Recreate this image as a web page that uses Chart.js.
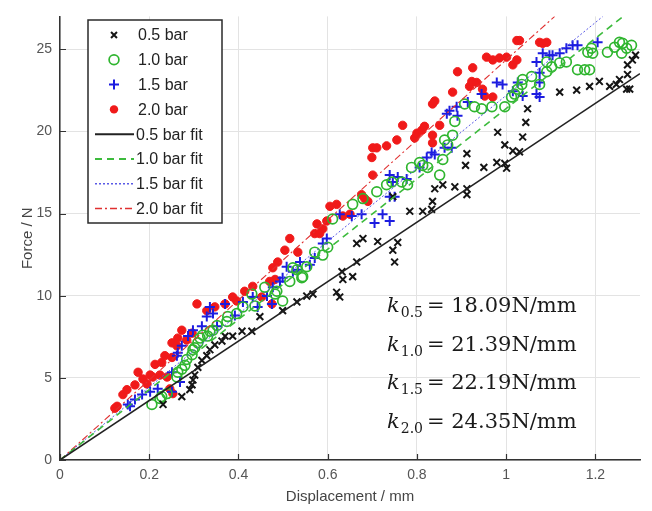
<!DOCTYPE html>
<html>
<head>
<meta charset="utf-8">
<script src="https://cdn.jsdelivr.net/npm/chart.js@4"></script>
<style>
  html, body { margin: 0; padding: 0; background: #fff; }
</style>
</head>
<body>
<canvas id="myChart" width="652" height="511"></canvas>
<script>
// axis ticks
const xTicks = [0, 0.2, 0.4, 0.6, 0.8, 1, 1.2];
const yTicks = [0, 5, 10, 15, 20, 25];

const seriesLabels = ['0.5 bar', '1.0 bar', '1.5 bar', '2.0 bar'];
const fitSlopes = [18.09, 21.39, 22.19, 24.35]; // N/mm, from the figure
const slopeNames = ['0.5', '1.0', '1.5', '2.0'];

const bar05 = [
    [0.231, 3.38], [0.273, 3.86], [0.291, 4.28], [0.296, 4.57], [0.298, 4.87], [0.302, 5.17],
    [0.309, 5.64], [0.318, 6.06], [0.329, 6.35], [0.336, 6.71], [0.347, 7.01], [0.363, 7.24],
    [0.370, 7.54], [0.387, 7.54], [0.408, 7.84], [0.430, 7.84], [0.448, 8.73], [0.499, 9.09],
    [0.531, 9.62], [0.553, 9.98], [0.567, 10.10], [0.627, 9.92], [0.620, 10.21], [0.634, 10.99],
    [0.656, 11.16], [0.632, 11.46], [0.665, 12.05], [0.665, 13.18], [0.679, 13.48], [0.712, 13.30],
    [0.746, 12.77], [0.750, 12.05], [0.757, 13.24], [0.746, 16.03], [0.784, 15.14], [0.813, 15.14],
    [0.833, 15.26], [0.835, 15.74], [0.840, 16.51], [0.858, 16.75], [0.885, 16.63], [0.912, 16.51],
    [0.912, 16.15], [0.909, 17.93], [0.912, 18.65], [0.950, 17.81], [0.979, 18.11], [0.997, 18.05],
    [1.001, 17.76], [0.997, 19.18], [0.981, 19.95], [1.015, 18.82], [1.030, 18.76], [1.037, 19.66],
    [1.044, 20.55], [1.048, 21.38], [1.120, 22.39], [1.158, 22.51], [1.187, 22.74], [1.209, 23.04],
    [1.232, 22.74], [1.247, 22.86], [1.254, 23.16], [1.270, 22.57], [1.277, 22.57], [1.272, 23.46],
    [1.272, 24.05], [1.283, 24.35], [1.290, 24.64]
];

const bar10 = [
    [0.206, 3.38], [0.224, 3.74], [0.240, 4.04], [0.262, 5.05], [0.264, 5.34], [0.273, 5.52],
    [0.280, 5.76], [0.284, 6.12], [0.296, 6.41], [0.302, 6.83], [0.309, 7.13], [0.314, 7.42],
    [0.320, 7.60], [0.336, 7.84], [0.228, 3.86], [0.298, 6.71], [0.331, 7.54], [0.352, 8.19],
    [0.374, 8.43], [0.396, 8.91], [0.410, 9.32], [0.437, 9.38], [0.459, 10.51], [0.486, 10.27],
    [0.499, 9.68], [0.515, 10.87], [0.542, 11.10], [0.531, 11.58], [0.553, 11.76], [0.343, 7.90],
    [0.376, 8.73], [0.430, 10.10], [0.482, 10.10], [0.522, 11.70], [0.544, 11.16], [0.571, 12.65],
    [0.589, 12.47], [0.600, 12.95], [0.611, 14.67], [0.656, 15.56], [0.679, 15.91], [0.710, 16.33],
    [0.732, 16.75], [0.744, 16.92], [0.766, 16.92], [0.779, 16.75], [0.788, 17.81], [0.806, 18.11],
    [0.813, 17.93], [0.824, 17.81], [0.851, 17.34], [0.858, 18.29], [0.862, 19.48], [0.869, 19.18],
    [0.880, 19.77], [0.885, 20.61], [0.907, 21.67], [0.929, 21.50], [0.945, 21.38], [0.968, 21.50],
    [0.997, 21.50], [1.012, 22.09], [1.019, 22.27], [1.026, 22.57], [1.035, 22.86], [1.037, 23.16],
    [1.057, 23.34], [1.075, 22.86], [1.091, 23.63], [1.102, 23.93], [1.120, 24.17], [1.135, 24.23],
    [1.091, 24.23], [1.160, 23.75], [1.176, 23.75], [1.187, 23.75], [1.183, 24.82], [1.191, 25.06],
    [1.194, 24.76], [1.227, 24.82], [1.243, 25.12], [1.261, 25.36], [1.270, 25.06], [1.259, 24.76],
    [1.254, 25.42], [1.281, 25.24]
];

const bar15 = [
    [0.152, 3.38], [0.168, 3.68], [0.184, 3.98], [0.202, 4.16], [0.219, 4.33], [0.251, 4.16],
    [0.269, 4.75], [0.262, 6.35], [0.273, 6.95], [0.287, 7.54], [0.298, 7.90], [0.318, 8.14],
    [0.352, 8.14], [0.157, 3.27], [0.251, 5.34], [0.264, 6.53], [0.329, 8.73], [0.336, 9.32],
    [0.370, 9.50], [0.410, 9.62], [0.443, 9.32], [0.477, 10.51], [0.493, 10.87], [0.499, 11.10],
    [0.508, 11.76], [0.538, 12.05], [0.343, 8.91], [0.392, 8.79], [0.432, 9.92], [0.464, 9.98],
    [0.475, 9.50], [0.522, 11.46], [0.533, 11.58], [0.560, 11.88], [0.571, 12.29], [0.589, 13.18],
    [0.598, 13.48], [0.627, 14.96], [0.654, 14.85], [0.676, 14.96], [0.705, 14.43], [0.723, 14.96],
    [0.739, 14.55], [0.739, 17.34], [0.746, 16.92], [0.757, 17.22], [0.777, 17.10], [0.750, 16.03],
    [0.739, 16.03], [0.806, 17.81], [0.822, 18.41], [0.833, 18.71], [0.840, 18.59], [0.867, 21.08],
    [0.873, 21.26], [0.889, 21.50], [0.891, 20.96], [0.862, 19.00], [0.878, 19.00], [0.914, 21.79],
    [0.945, 22.27], [0.979, 22.98], [0.992, 22.86], [1.015, 22.45], [1.037, 22.15], [1.068, 22.27],
    [1.075, 22.09], [1.075, 22.98], [1.075, 23.57], [1.068, 24.23], [1.082, 24.76], [1.097, 24.64],
    [1.120, 24.76], [1.135, 25.06], [1.149, 25.24], [1.160, 25.24], [1.026, 22.98], [1.104, 24.64],
    [1.205, 25.42]
];

const bar20 = [
    [0.123, 3.15], [0.141, 3.98], [0.150, 4.28], [0.168, 4.57], [0.175, 5.34], [0.195, 4.63],
    [0.208, 5.05], [0.213, 5.82], [0.224, 5.17], [0.228, 5.94], [0.235, 6.35], [0.240, 5.05],
    [0.246, 4.33], [0.251, 6.24], [0.251, 7.13], [0.262, 6.95], [0.264, 7.42], [0.273, 7.90],
    [0.284, 7.30], [0.296, 7.72], [0.253, 4.04], [0.128, 3.27], [0.186, 4.93], [0.202, 5.17],
    [0.307, 9.50], [0.329, 9.09], [0.347, 9.32], [0.370, 9.50], [0.387, 9.92], [0.396, 9.68],
    [0.414, 10.27], [0.432, 10.57], [0.475, 9.50], [0.452, 9.92], [0.477, 11.70], [0.482, 10.99],
    [0.488, 12.05], [0.470, 10.87], [0.504, 12.77], [0.515, 13.48], [0.533, 12.65], [0.571, 13.78],
    [0.576, 14.37], [0.589, 14.07], [0.598, 14.55], [0.582, 13.78], [0.605, 15.44], [0.620, 15.56],
    [0.634, 14.85], [0.650, 14.96], [0.676, 16.15], [0.683, 15.91], [0.690, 15.74], [0.701, 17.34],
    [0.699, 18.41], [0.701, 19.00], [0.710, 19.00], [0.732, 19.12], [0.755, 19.48], [0.768, 20.37],
    [0.795, 19.60], [0.800, 19.89], [0.811, 20.07], [0.817, 20.31], [0.835, 19.77], [0.835, 19.30],
    [0.851, 20.37], [0.835, 21.67], [0.840, 21.85], [0.880, 22.39], [0.891, 23.63], [0.918, 22.74],
    [0.923, 23.04], [0.934, 22.98], [0.947, 22.57], [0.925, 23.87], [0.952, 22.15], [0.970, 22.09],
    [0.956, 24.52], [0.970, 24.35], [0.985, 24.47], [1.001, 24.52], [1.015, 24.05], [1.024, 24.35],
    [1.024, 25.53], [1.030, 25.53], [1.075, 25.42], [1.082, 25.36], [1.091, 25.42]
];

const X_MAX = 1.3;
const Y_MAX = 27;

const toPts = arr => arr.map(p => ({ x: p[0], y: p[1] }));

// fit line through the origin, up to where it leaves the axes
function fitLine(k) {
    const xe = Math.min(X_MAX, Y_MAX / k);
    return [{ x: 0, y: 0 }, { x: xe, y: k * xe }];
}

const markerStyles = [
    { pointStyle: 'crossRot', radius: 4.8, color: '#151515', fill: false, width: 2 },
    { pointStyle: 'circle', radius: 4.9, color: '#2fb52f', fill: false, width: 1.7 },
    { pointStyle: 'cross', radius: 5, color: '#1c1ce0', fill: false, width: 2 },
    { pointStyle: 'circle', radius: 4.2, color: '#f01a1a', fill: true, width: 1 }
];
const fitStyles = [
    { color: '#222222', dash: [], width: 1.6 },
    { color: '#3dbb3d', dash: [7, 5], width: 1.6 },
    { color: '#5a5ae6', dash: [2, 2], width: 1 },
    { color: '#e03030', dash: [7, 3, 2, 3], width: 1.1 }
];

const scatterData = [bar05, bar10, bar15, bar20];

const datasets = [];
fitSlopes.forEach((k, i) => {
    datasets.push({
        label: seriesLabels[i] + ' fit',
        type: 'line',
        data: fitLine(k),
        borderColor: fitStyles[i].color,
        borderWidth: fitStyles[i].width,
        borderDash: fitStyles[i].dash,
        pointRadius: 0,
        fill: false,
        order: 0
    });
});
scatterData.forEach((arr, i) => {
    const m = markerStyles[i];
    datasets.push({
        label: seriesLabels[i],
        data: toPts(arr),
        pointStyle: m.pointStyle,
        pointRadius: m.radius,
        pointBorderWidth: m.width,
        borderColor: m.color,
        backgroundColor: m.fill ? m.color : 'rgba(0,0,0,0)',
        pointBackgroundColor: m.fill ? m.color : 'rgba(0,0,0,0)',
        order: 1
    });
});

function drawMarker(ctx, m, x, y) {
    ctx.save();
    ctx.strokeStyle = m.color;
    ctx.fillStyle = m.color;
    ctx.lineWidth = m.width;
    const r = m.radius;
    ctx.beginPath();
    if (m.pointStyle === 'crossRot') {
        const d = r * 0.62;
        ctx.moveTo(x - d, y - d); ctx.lineTo(x + d, y + d);
        ctx.moveTo(x + d, y - d); ctx.lineTo(x - d, y + d);
        ctx.stroke();
    } else if (m.pointStyle === 'cross') {
        ctx.moveTo(x - r, y); ctx.lineTo(x + r, y);
        ctx.moveTo(x, y - r); ctx.lineTo(x, y + r);
        ctx.stroke();
    } else {
        ctx.arc(x, y, r, 0, Math.PI * 2);
        if (m.fill) ctx.fill(); else ctx.stroke();
    }
    ctx.restore();
}

// MATLAB style ticks pointing into the plot
const inwardTicks = {
    id: 'inwardTicks',
    afterDraw(chart) {
        const ctx = chart.ctx;
        const a = chart.chartArea;
        const xs = chart.scales.x, ys = chart.scales.y;
        ctx.save();
        ctx.strokeStyle = '#333';
        ctx.lineWidth = 1.2;
        ctx.beginPath();
        xTicks.forEach(v => {
            const px = Math.round(xs.getPixelForValue(v)) + 0.5;
            ctx.moveTo(px, a.bottom); ctx.lineTo(px, a.bottom - 6);
        });
        yTicks.forEach(v => {
            const py = Math.round(ys.getPixelForValue(v)) + 0.5;
            ctx.moveTo(a.left, py); ctx.lineTo(a.left + 6, py);
        });
        ctx.stroke();
        ctx.restore();
    }
};

const boxLegend = {
    id: 'boxLegend',
    afterDraw(chart) {
        const ctx = chart.ctx;
        const left = 88, top = 20, w = 134, h = 203;
        ctx.save();
        ctx.fillStyle = '#fff';
        ctx.fillRect(left, top, w, h);
        ctx.strokeStyle = '#2a2a2a';
        ctx.lineWidth = 1.5;
        ctx.strokeRect(left, top, w, h);
        ctx.font = '16px "Liberation Sans", Arial, sans-serif';
        ctx.fillStyle = '#222';
        ctx.textBaseline = 'middle';
        const rowH = 24.8;
        for (let i = 0; i < 8; i++) {
            const cy = top + 15 + i * rowH;
            if (i < 4) {
                const m = Object.assign({}, markerStyles[i]);
                drawMarker(ctx, m, 114, cy);
                ctx.fillStyle = '#222';
                ctx.fillText(seriesLabels[i], 138, cy + 1);
            } else {
                const f = fitStyles[i - 4];
                ctx.save();
                ctx.strokeStyle = f.color;
                ctx.lineWidth = f.width + 0.4;
                ctx.setLineDash(f.dash);
                ctx.beginPath();
                ctx.moveTo(95, cy); ctx.lineTo(134, cy);
                ctx.stroke();
                ctx.restore();
                ctx.fillText(seriesLabels[i - 4] + ' fit', 136, cy + 1);
            }
        }
        ctx.restore();
    }
};

// stiffness text at lower right
const slopeText = {
    id: 'slopeText',
    afterDraw(chart) {
        const ctx = chart.ctx;
        ctx.save();
        ctx.fillStyle = '#1a1a1a';
        ctx.textBaseline = 'alphabetic';
        const x0 = 387;
        fitSlopes.forEach((k, i) => {
            const base = 312 + i * 38.5;
            let x = x0;
            ctx.font = 'italic 21px "DejaVu Serif", "Liberation Serif", serif';
            ctx.fillText('k', x, base);
            x += ctx.measureText('k').width + 1;
            ctx.font = '14px "DejaVu Serif", "Liberation Serif", serif';
            ctx.fillText(slopeNames[i], x, base + 5);
            x += ctx.measureText(slopeNames[i]).width + 4;
            ctx.font = '21px "DejaVu Serif", "Liberation Serif", serif';
            ctx.fillText('= ' + k.toFixed(2) + 'N/mm', x, base);
        });
        ctx.restore();
    }
};

const tickFont = { family: '"Liberation Sans", Arial, sans-serif', size: 14 };

const ctx = document.getElementById('myChart').getContext('2d');
const myChart = new Chart(ctx, {
    type: 'scatter',
    data: { datasets: datasets },
    options: {
        responsive: false,
        animation: false,
        devicePixelRatio: 1,
        layout: { padding: { top: 5, right: 12, left: 0, bottom: 0 } },
        plugins: {
            legend: { display: false },
            tooltip: { enabled: false }
        },
        scales: {
            x: {
                type: 'linear',
                min: 0,
                max: X_MAX,
                afterBuildTicks: s => { s.ticks = xTicks.map(v => ({ value: v })); },
                afterFit: s => { s.height = 51; },
                ticks: {
                    callback: v => String(v),
                    font: tickFont,
                    color: '#555',
                    padding: 7,
                    maxRotation: 0,
                    autoSkip: false
                },
                grid: { color: '#e3e3e3', drawTicks: false },
                border: { color: '#333', width: 1.5 },
                title: {
                    display: true,
                    text: 'Displacement / mm',
                    font: { family: '"Liberation Sans", Arial, sans-serif', size: 15 },
                    color: '#444',
                    padding: { top: 0, bottom: 5 }
                }
            },
            y: {
                type: 'linear',
                min: 0,
                max: Y_MAX,
                afterBuildTicks: s => { s.ticks = yTicks.map(v => ({ value: v })); },
                afterFit: s => { s.width = 60; },
                ticks: {
                    callback: v => String(v),
                    font: tickFont,
                    color: '#555',
                    padding: 8
                },
                grid: { color: '#e3e3e3', drawTicks: false },
                border: { color: '#333', width: 1.5 },
                title: {
                    display: true,
                    text: 'Force / N',
                    font: { family: '"Liberation Sans", Arial, sans-serif', size: 15 },
                    color: '#444',
                    padding: { top: 19, bottom: 0 }
                }
            }
        }
    },
    plugins: [inwardTicks, boxLegend, slopeText]
});
</script>
</body>
</html>
